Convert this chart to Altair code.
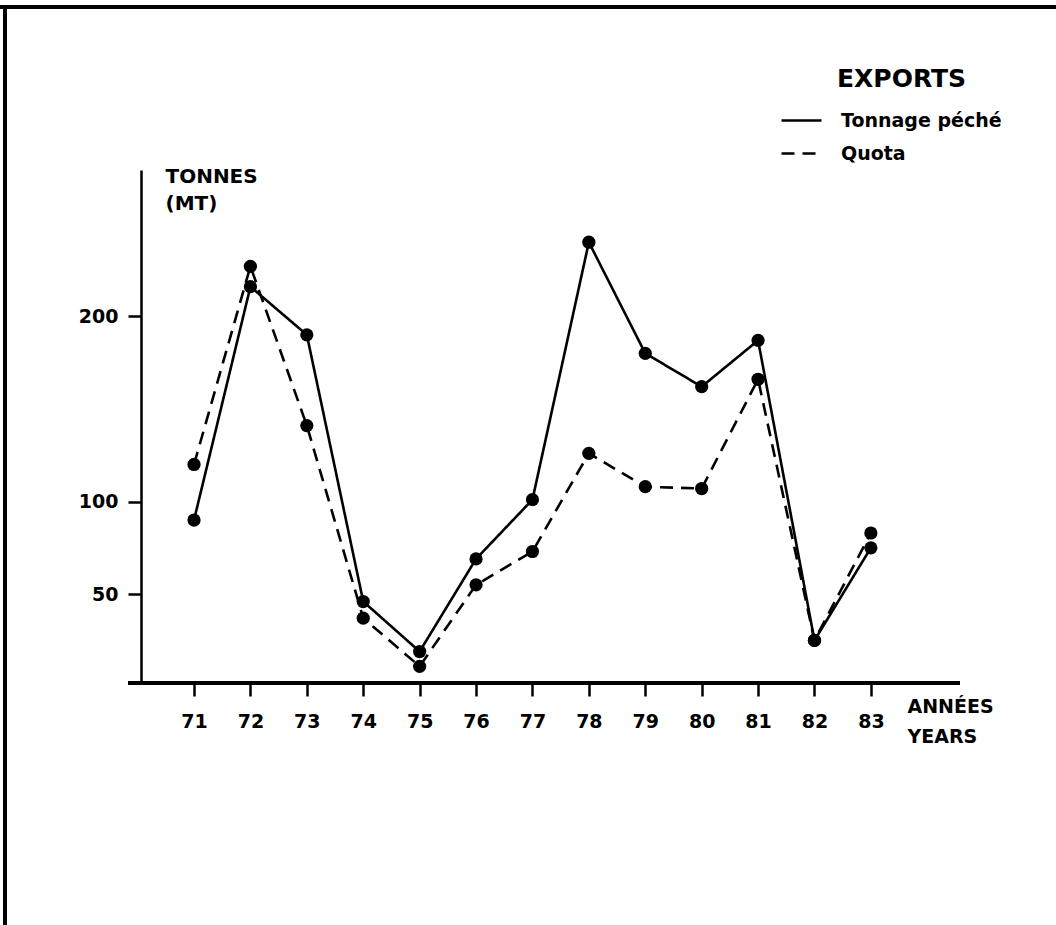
import altair as alt
import pandas as pd

# Exports: tonnage caught vs quota, 1971-1983 (tonnes)
years = [71, 72, 73, 74, 75, 76, 77, 78, 79, 80, 81, 82, 83]
tonnage = [90, 216, 190, 46, 19, 69, 101, 240, 180, 162, 187, 25, 75]
quota = [120, 227, 141, 37, 11, 55, 73, 126, 108, 107, 166, 25, 83]
y_ticks = [50, 100, 200]
series_names = ["Tonnage péché", "Quota"]

FONT = "DejaVu Sans"
W, H = 819, 513

df = pd.concat([
    pd.DataFrame({"year": years, "value": tonnage, "series": series_names[0]}),
    pd.DataFrame({"year": years, "value": quota, "series": series_names[1]}),
])

x_enc = alt.X(
    "year:Q",
    scale=alt.Scale(domain=[70.06, 84.58], nice=False, zero=False),
    axis=alt.Axis(
        values=years, format="d", domain=False, grid=False,
        tickSize=13, tickWidth=2.5, tickColor="black",
        labelFont=FONT, labelFontSize=19, labelFontWeight="bold", labelColor="black",
        labelPadding=16, labelFlush=False,
        title=["ANNÉES", "YEARS"], titleFont=FONT, titleFontSize=19, titleFontWeight="bold",
        titleColor="black", titleAngle=0, titleAlign="left", titleBaseline="top",
        titleX=766, titleY=14, titleLineHeight=30,
    ),
)
y_enc = alt.Y(
    "value:Q",
    scale=alt.Scale(domain=[2, 279], nice=False, zero=False),
    axis=alt.Axis(
        values=y_ticks, grid=False,
        domainWidth=2.5, domainColor="black",
        tickSize=13, tickWidth=2.5, tickColor="black",
        labelFont=FONT, labelFontSize=19, labelFontWeight="bold", labelColor="black",
        labelPadding=10,
        title=["TONNES", "(MT)"], titleFont=FONT, titleFontSize=20, titleFontWeight="bold",
        titleColor="black", titleAngle=0, titleAlign="left", titleBaseline="top",
        titleX=24, titleY=-4, titleLineHeight=27,
    ),
)

lines = alt.Chart(df).mark_line(color="black", strokeWidth=2.6).encode(
    x=x_enc,
    y=y_enc,
    strokeDash=alt.StrokeDash(
        "series:N",
        scale=alt.Scale(domain=series_names, range=[[1, 0], [13, 8]]),
        legend=alt.Legend(
            title=None, orient="none", legendX=639, legendY=-66,
            symbolType="stroke", symbolSize=1600, symbolStrokeWidth=2.6,
            symbolStrokeColor="black",
            labelFont=FONT, labelFontSize=19, labelFontWeight="bold",
            labelColor="black", labelOffset=18, labelLimit=400,
            clipHeight=33, rowPadding=0,
        ),
    ),
)

points = alt.Chart(df).mark_circle(color="black", size=175, opacity=1).encode(
    x="year:Q", y="value:Q"
)

# x axis baseline, running a little past the y axis
x_base = alt.Chart(df).mark_rule(color="black", strokeWidth=2.5).encode(
    x=alt.value(-13), x2=alt.value(W), y=alt.value(H)
)

# legend heading
heading = alt.Chart(pd.DataFrame({"t": ["EXPORTS"]})).mark_text(
    font=FONT, fontSize=25, fontWeight="bold", color="black",
    align="left", baseline="alphabetic",
).encode(text="t:N", x=alt.value(696), y=alt.value(-83))

# page frame: top and left edges
frame_top = alt.Chart(df).mark_rule(color="black", strokeWidth=3).encode(
    x=alt.value(-141), x2=alt.value(1056 - 141), y=alt.value(-163)
)
frame_left = alt.Chart(df).mark_rule(color="black", strokeWidth=3).encode(
    x=alt.value(-136), y=alt.value(-163), y2=alt.value(925 - 170)
)

chart = alt.layer(
    frame_top, frame_left, x_base, lines, points, heading
).properties(
    width=W, height=H,
    autosize=alt.AutoSizeParams(type="none"),
    padding={"left": 141, "top": 170, "right": 96, "bottom": 242},
    background="white",
).configure_view(stroke=None)

chart.save("out.html", embed_options={"renderer": "svg", "actions": False})
